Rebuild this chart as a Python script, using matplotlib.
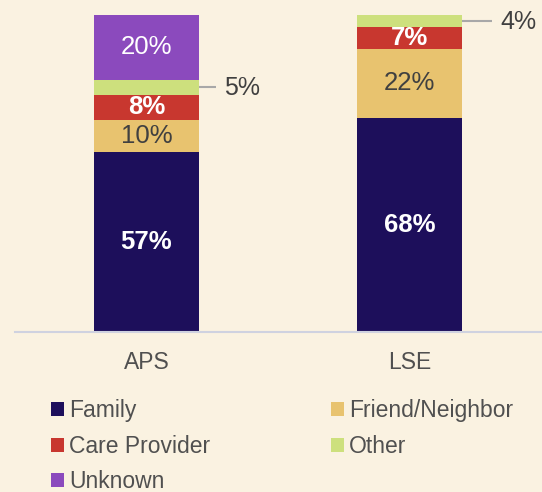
import matplotlib
matplotlib.use("Agg")
import matplotlib.pyplot as plt
from matplotlib.patches import Patch

plt.rcParams['font.family'] = ['Liberation Sans', 'DejaVu Sans']

groups = ["APS", "LSE"]
categories = ["Family", "Friend/Neighbor", "Care Provider", "Other", "Unknown"]
values = {
    "Family":          [56.8, 67.6],
    "Friend/Neighbor": [10.2, 21.6],
    "Care Provider":   [7.9, 7.0],
    "Other":           [4.7, 3.8],
    "Unknown":         [20.4, 0.0],
}
colors = {
    "Family": "#1d0f5b",
    "Friend/Neighbor": "#e8c36f",
    "Care Provider": "#c8372f",
    "Other": "#cde07d",
    "Unknown": "#8b4abd",
}
label_style = {
    "Family": ("white", "bold"),
    "Friend/Neighbor": ("#404040", "normal"),
    "Care Provider": ("white", "bold"),
    "Unknown": ("white", "normal"),
}

bg = "#faf2e1"
fig = plt.figure(figsize=(5.42, 4.92), dpi=100, facecolor=bg)
ax = fig.add_axes([15/542, 1-332/492, 1-15/542, (332-15)/492])
ax.set_facecolor(bg)

x = list(range(len(groups)))
bottoms = [0.0]*len(groups)
for cat in categories:
    vals = values[cat]
    ax.bar(x, vals, width=0.4, bottom=bottoms, color=colors[cat], edgecolor='none')
    for i, v in enumerate(vals):
        if v <= 0:
            continue
        mid = bottoms[i] + v/2
        if cat == "Other":
            ext = 0.065 if i == 0 else 0.115
            ax.plot([x[i]+0.2, x[i]+0.2+ext], [mid, mid], color="#a8a8a8", lw=1.5,
                    solid_capstyle='butt')
            ax.text(x[i]+0.2+ext+0.03, mid - 0.4, f"{v:.0f}%", ha='left', va='center',
                    fontsize=18, color="#404040")
        else:
            c, w = label_style[cat]
            ax.text(x[i], mid, f"{v:.0f}%", ha='center', va='center',
                    fontsize=18.5, color=c, fontweight=w)
        bottoms[i] += v

ax.set_xlim(-0.5, 1.504)
ax.set_ylim(0, 100)
for s in ["top", "right", "left"]:
    ax.spines[s].set_visible(False)
ax.spines["bottom"].set_color("#cfd2e0")
ax.spines["bottom"].set_linewidth(1.5)
ax.set_yticks([])
ax.set_xticks(x)
ax.set_xticklabels(groups, fontsize=16.5, color="#505050")
ax.tick_params(axis='x', length=0, pad=14)

# legend laid out row-wise: Family, Friend/Neighbor / Care Provider, Other / Unknown
legend_order = ["Family", "Care Provider", "Unknown", "Friend/Neighbor", "Other"]
handles = [Patch(facecolor=colors[c], edgecolor='none', label=c) for c in legend_order]
fig.legend(handles=handles, loc='upper left', bbox_to_anchor=(42/542, 1-390/492),
           ncol=2, frameon=False, fontsize=16.5, labelcolor="#505050",
           handlelength=0.55, handleheight=0.55, handletextpad=0.22,
           columnspacing=5.3, labelspacing=0.55, borderaxespad=0)

fig.savefig("out.png", dpi=100, facecolor=bg)
